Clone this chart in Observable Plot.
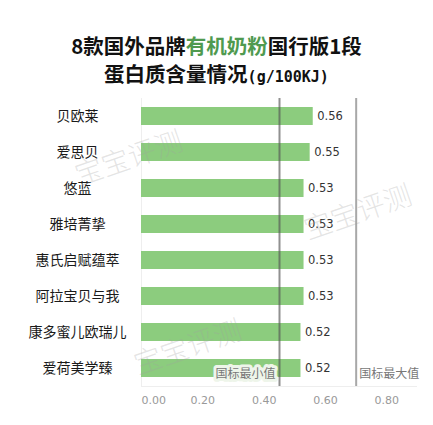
<!DOCTYPE html>
<html>
<head>
<meta charset="utf-8">
<script src="https://cdn.jsdelivr.net/npm/d3@7"></script>
<script src="https://cdn.jsdelivr.net/npm/@observablehq/plot@0.6"></script>
<style>
  html, body { margin: 0; padding: 0; background: #fff; }
  #wrap { position: relative; width: 433px; height: 425px; overflow: hidden; }
  #title { height: 90px; box-sizing: border-box; padding-top: 31px; text-align: center;
    font-family: "Noto Sans CJK SC", sans-serif; font-weight: 700; font-size: 20.5px; line-height: 28px; color: #111; }
  #title .g { color: #4f9a4f; }
  #title .u { font-family: "DejaVu Sans Mono", monospace; font-size: 15px; font-weight: 700; }
  .wm { position: absolute; font-family: "Noto Sans CJK SC", sans-serif; font-size: 28px; font-weight: 300;
    color: rgba(160,160,160,0.28); transform: translate(-50%, -50%) rotate(-19deg); white-space: nowrap; pointer-events: none; }
</style>
</head>
<body>
<div id="wrap">
  <div id="title">8款国外品牌<span class="g">有机奶粉</span>国行版1段<br>蛋白质含量情况<span class="u">(g/100KJ)</span></div>
  <div id="chart"></div>
  <div class="wm" style="left:128px; top:156px;">宝宝评测</div>
  <div class="wm" style="left:357px; top:210px;">宝宝评测</div>
  <div class="wm" style="left:187px; top:345px;">宝宝评测</div>
</div>
<script>
const brands = ["贝欧莱", "爱思贝", "悠蓝", "雅培菁挚", "惠氏启赋蕴萃", "阿拉宝贝与我", "康多蜜儿欧瑞儿", "爱荷美学臻"];
const protein = [0.56, 0.55, 0.53, 0.53, 0.53, 0.53, 0.52, 0.52];
const xTicks = [0, 0.2, 0.4, 0.6, 0.8];
const standardMin = 0.45;
const standardMax = 0.70;
const minLabel = "国标最小值";
const maxLabel = "国标最大值";

const data = brands.map((b, i) => ({brand: b, value: protein[i]}));
const lastBrand = brands[brands.length - 1];

const chart = Plot.plot({
  width: 433,
  height: 335,
  marginLeft: 141,
  marginRight: 16,
  marginTop: 8,
  marginBottom: 39,
  style: {fontFamily: "'DejaVu Sans', 'Noto Sans CJK SC', sans-serif", background: "transparent"},
  x: {domain: [0, 0.9], axis: null, label: null},
  y: {domain: brands, axis: null, label: null, paddingInner: 0.5, paddingOuter: 0.25},
  marks: [
    Plot.ruleX([0], {stroke: "#eeeeee", strokeWidth: 1}),
    Plot.ruleY([lastBrand], {dy: 18, stroke: "#eeeeee", strokeWidth: 1}),
    Plot.barX(data, {x: "value", y: "brand", fill: "#8ccc7e"}),
    Plot.ruleX([standardMin], {stroke: "#555", strokeOpacity: 0.65, strokeWidth: 2}),
    Plot.ruleX([standardMax], {stroke: "#999", strokeOpacity: 0.85, strokeWidth: 2}),
    Plot.text(data, {x: "value", y: "brand", text: d => d.value.toFixed(2), dx: 4, textAnchor: "start", fontSize: 11.5, fill: "#333"}),
    Plot.text(brands, {y: d => d, text: d => d, frameAnchor: "left", dx: -64, textAnchor: "middle", fontSize: 14, fill: "#1a1a1a", fontFamily: "Noto Sans CJK SC"}),
    Plot.text([minLabel], {x: standardMin, frameAnchor: "bottom", dy: -9, dx: -4, textAnchor: "end", text: d => d, fontSize: 12, fill: "#777", stroke: "#eef5ea", strokeWidth: 6, fontFamily: "Noto Sans CJK SC"}),
    Plot.text([maxLabel], {x: standardMax, frameAnchor: "bottom", dy: -9, dx: 3, textAnchor: "start", text: d => d, fontSize: 12, fill: "#777", fontFamily: "Noto Sans CJK SC"}),
    Plot.axisX({ticks: [xTicks[0]], label: null, tickSize: 0, tickPadding: 10, tickFormat: d3.format(".2f"), textAnchor: "start", fontSize: 11, fill: "#999"}),
    Plot.axisX({ticks: xTicks.slice(1), label: null, tickSize: 0, tickPadding: 10, tickFormat: d3.format(".2f"), fontSize: 11, fill: "#999"})
  ]
});
document.getElementById("chart").appendChild(chart);
</script>
</body>
</html>
